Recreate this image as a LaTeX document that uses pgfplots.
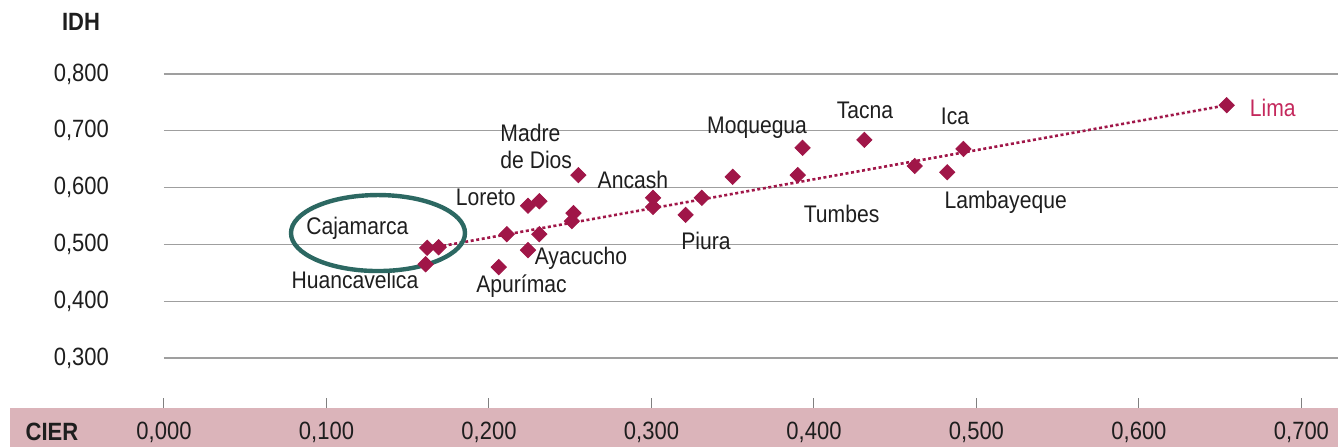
\documentclass[border=0pt]{standalone}
\usepackage{fontspec}
\setmainfont{Liberation Sans}[FakeStretch=0.88]
\usepackage{pgfplots}
\pgfplotsset{compat=1.18}
\usetikzlibrary{backgrounds}
\definecolor{mk}{RGB}{160,22,72}
\definecolor{limac}{RGB}{196,40,92}
\definecolor{ellc}{RGB}{44,104,98}
\definecolor{band}{RGB}{219,180,186}
\definecolor{txt}{RGB}{30,30,30}
\begin{document}
\begin{tikzpicture}
\begin{axis}[name=ax, scale only axis, width=587pt, height=167pt,
  xmin=0, xmax=0.7225, ymin=0.212, ymax=0.8,
  clip=false,
  axis line style={draw=none},
  xtick={0,0.1,0.2,0.3,0.4,0.5,0.6,0.7},
  ytick={0.3,0.4,0.5,0.6,0.7,0.8},
  xtick pos=bottom, tick align=inside, major tick length=5pt,
  x tick style={gray, line width=0.5pt},
  y tick style={draw=none},
  ymajorgrids, grid style={gray!75, line width=0.6pt},
  tick label style={font=\fontsize{12.5}{14}\selectfont, text=txt},
  xticklabel style={anchor=center, yshift=-12pt},
  yticklabel style={anchor=east, xshift=-24pt},
  /pgf/number format/.cd, fixed, fixed zerofill, precision=3, use comma, assume math mode=true,
]
\addplot[mk, line width=1.3pt, dash pattern=on 1.5pt off 1.3pt] coordinates {(0.165,0.494) (0.654,0.745)};
\addplot[only marks, mark=square*, mark size=2.7pt, mark options={rotate=45, fill=mk, draw=mk}] coordinates {
(0.162,0.494) (0.169,0.495) (0.161,0.465) (0.211,0.518) (0.231,0.518)
(0.224,0.490) (0.206,0.460) (0.224,0.568) (0.231,0.576) (0.255,0.622)
(0.252,0.555) (0.251,0.541) (0.301,0.582) (0.301,0.566) (0.321,0.552)
(0.331,0.582) (0.350,0.619) (0.390,0.622) (0.393,0.670) (0.431,0.684)
(0.462,0.638) (0.482,0.627) (0.492,0.668) (0.654,0.745)};
\begin{scope}[every node/.style={font=\fontsize{12}{13.5}\selectfont, text=txt, inner sep=0pt}]
\node at (axis cs:0.4314,0.7366) {Tacna};
\node at (axis cs:0.4868,0.726) {Ica};
\node[anchor=west, text=limac] at (axis cs:0.668,0.740) {Lima};
\node at (axis cs:0.365,0.705) {Moquegua};
\node[anchor=west, align=left] at (axis cs:0.2068,0.673) {Madre\\de Dios};
\node at (axis cs:0.2886,0.613) {Ancash};
\node at (axis cs:0.198,0.582) {Loreto};
\node at (axis cs:0.119,0.529) {Cajamarca};
\node at (axis cs:0.1175,0.437) {Huancavelica};
\node at (axis cs:0.220,0.427) {Apurímac};
\node at (axis cs:0.2566,0.476) {Ayacucho};
\node at (axis cs:0.3335,0.506) {Piura};
\node at (axis cs:0.417,0.5535) {Tumbes};
\node at (axis cs:0.518,0.5746) {Lambayeque};
\end{scope}
\draw[ellc, line width=2.2pt] (axis cs:0.1317,0.520) ellipse [x radius=43.5pt, y radius=19pt];
\end{axis}
\begin{scope}[on background layer]
\fill[band] ([xshift=-77pt]ax.south west) rectangle ([yshift=-19.5pt]ax.south east);
\end{scope}
\node[font=\bfseries\fontsize{12.5}{14}\selectfont, text=txt] at ([xshift=-41.5pt,yshift=26pt]ax.north west) {IDH};
\node[font=\bfseries\fontsize{12.5}{14}\selectfont, text=txt] at ([xshift=-56pt,yshift=-12pt]ax.south west) {CIER};
\pgfresetboundingbox
\path ([xshift=-82pt,yshift=-19.5pt]ax.south west) rectangle ([yshift=37pt]ax.north east);
\end{tikzpicture}
\end{document}
